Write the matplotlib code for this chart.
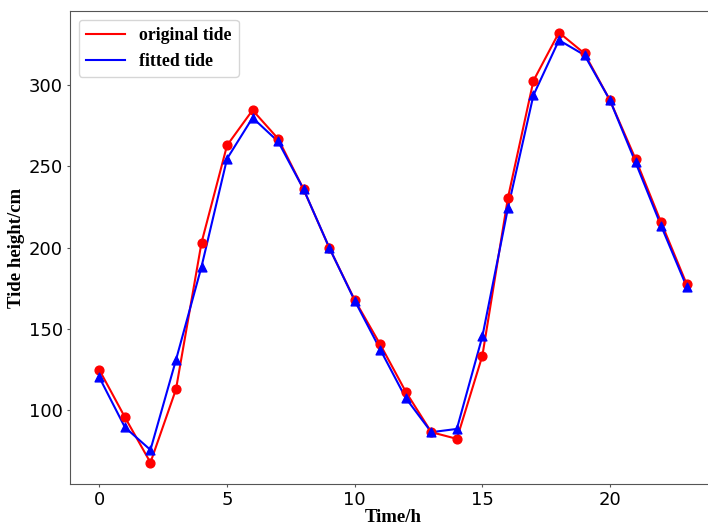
import numpy as np
import matplotlib
matplotlib.use("Agg")
import matplotlib.pyplot as plt

hours = list(range(24))
original_tide = [124.6, 95.5, 67.6, 112.7, 203, 262.9, 284.6, 267, 235.8, 200, 167.7, 140.3,
                 111.2, 86.3, 82.2, 133.4, 230.5, 302.7, 332.4, 319.5, 290.6, 254.5, 215.5, 177.5]
fitted_tide = [120, 89.3, 75.4, 130.8, 188.2, 254.7, 279.9, 265.3, 235.8, 200, 167.3, 137.2,
               107.3, 86.3, 88.3, 145.3, 224.1, 293.8, 327.7, 318.5, 290.6, 252.4, 213.4, 175.9]

fig = plt.figure(figsize=(7.08, 5.25), dpi=100)
ax = fig.add_axes([0.0989, 0.078, 0.9124, 0.901])

ax.plot(hours, original_tide, color='red', linewidth=1.5, label='original tide')
ax.scatter(hours, original_tide, color='red', marker='o', s=40, zorder=3)
ax.plot(hours, fitted_tide, color='blue', linewidth=1.5, label='fitted tide')
ax.scatter(hours, fitted_tide, color='blue', marker='^', s=40, zorder=3)

serif_bold = {'family': 'Liberation Serif', 'weight': 'bold', 'size': 13.5}
ax.set_xlabel('Time/h', fontdict=serif_bold, labelpad=0)
ax.set_ylabel('Tide height/cm', fontdict=serif_bold, labelpad=3)
ax.tick_params(labelsize=13, length=2.5, pad=2.5, color='#555555')

for sp in ax.spines.values():
    sp.set_color('#555555')

ax.legend(loc='upper left', handlelength=2.2,
          prop={'family': 'Liberation Serif', 'weight': 'bold', 'size': 12.8})

fig.savefig('out.png', dpi=100)
